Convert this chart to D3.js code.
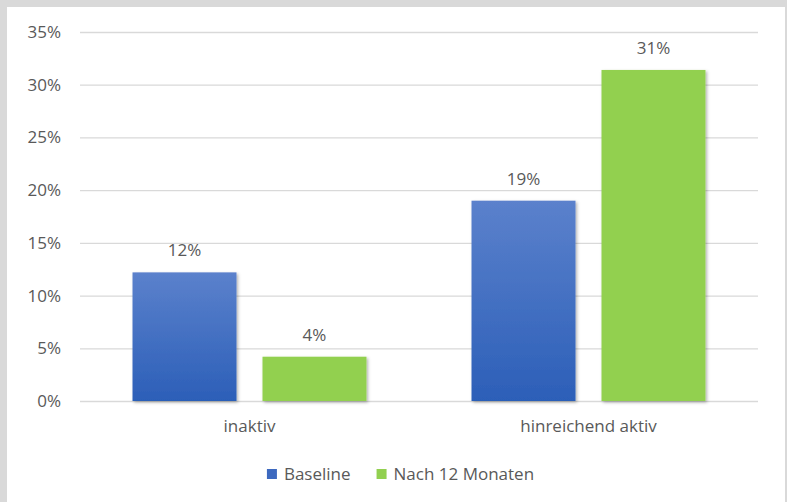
<!DOCTYPE html>
<html>
<head>
<meta charset="utf-8">
<script src="https://cdn.jsdelivr.net/npm/d3@7"></script>
<style>
  html, body { margin: 0; padding: 0; background: #d9d9d9; }
  svg { display: block; }
</style>
</head>
<body>
<svg id="chart" width="787" height="502"></svg>
<script>
// Activity levels at baseline and after 12 months
const categories = ["inaktiv", "hinreichend aktiv"];
const seriesNames = ["Baseline", "Nach 12 Monaten"];
const baseline = [0.122, 0.19];
const nach12 = [0.042, 0.314];
const yTicks = [0, 0.05, 0.10, 0.15, 0.20, 0.25, 0.30, 0.35];

const W = 787, H = 502;
const margin = { left: 80, right: 29, top: 32, bottom: 101 };
const font = "'Open Sans', sans-serif";
const fontSize = "17px";
const textColor = "#595959";

const svg = d3.select("#chart");

// white chart area inside the grey frame
svg.append("rect").attr("x", 7).attr("y", 7).attr("width", 778).attr("height", H - 7).attr("fill", "#ffffff");

const defs = svg.append("defs");
const grad = defs.append("linearGradient").attr("id", "blueGrad")
  .attr("x1", 0).attr("y1", 0).attr("x2", 0).attr("y2", 1);
grad.append("stop").attr("offset", "0%").attr("stop-color", "#5b81cc");
grad.append("stop").attr("offset", "100%").attr("stop-color", "#2c5fb8");

const shadow = defs.append("filter").attr("id", "shadow")
  .attr("x", "-20%").attr("y", "-10%").attr("width", "140%").attr("height", "120%");
shadow.append("feDropShadow").attr("dx", 1.5).attr("dy", 1.5).attr("stdDeviation", 1.6)
  .attr("flood-color", "#000").attr("flood-opacity", 0.3);

const x0 = d3.scaleBand().domain(categories).range([margin.left, W - margin.right]).paddingInner(0).paddingOuter(0);
const x1 = d3.scaleBand().domain(seriesNames).range([0, x0.bandwidth()]).paddingInner(0.2).paddingOuter(0.404);
const y = d3.scaleLinear().domain([0, 0.35]).range([H - margin.bottom, margin.top]);

const pct = d3.format(".0%");

// gridlines and y tick labels
const yAxis = d3.axisLeft(y).tickValues(yTicks).tickFormat(pct)
  .tickSize(-(W - margin.left - margin.right)).tickPadding(19);
const gy = svg.append("g").attr("transform", `translate(${margin.left},0)`).call(yAxis);
gy.select(".domain").remove();
gy.selectAll(".tick line").attr("stroke", "#d9d9d9").attr("stroke-width", 1.3);
gy.selectAll(".tick text").attr("fill", textColor).style("font-family", font).style("font-size", fontSize);

// bars
const colors = { "Baseline": "url(#blueGrad)", "Nach 12 Monaten": "#92d050" };
const legendColors = { "Baseline": "#3d69bf", "Nach 12 Monaten": "#92d050" };
const rows = categories.map((c, i) => ({
  cat: c,
  values: [
    { series: seriesNames[0], value: baseline[i] },
    { series: seriesNames[1], value: nach12[i] }
  ]
}));

const groups = svg.selectAll("g.group").data(rows).enter().append("g")
  .attr("class", "group").attr("transform", d => `translate(${x0(d.cat)},0)`);

groups.selectAll("rect").data(d => d.values).enter().append("rect")
  .attr("x", d => x1(d.series))
  .attr("y", d => y(d.value))
  .attr("width", x1.bandwidth())
  .attr("height", d => y(0) - y(d.value))
  .attr("fill", d => colors[d.series])
  .attr("filter", "url(#shadow)");

groups.selectAll("text.val").data(d => d.values).enter().append("text")
  .attr("class", "val")
  .attr("x", d => x1(d.series) + x1.bandwidth() / 2)
  .attr("y", d => y(d.value) - 16)
  .attr("text-anchor", "middle")
  .attr("fill", textColor)
  .style("font-family", font).style("font-size", fontSize)
  .text(d => pct(d.value));

// category labels
const xAxis = d3.axisBottom(x0).tickSize(0).tickPadding(19);
const gx = svg.append("g").attr("transform", `translate(0,${y(0)})`).call(xAxis);
gx.select(".domain").remove();
gx.selectAll(".tick text").attr("fill", textColor).style("font-family", font).style("font-size", fontSize);

// legend, centred under the plot
const legend = svg.append("g").attr("transform", "translate(0,474)");
const items = seriesNames.map(s => {
  const g = legend.append("g");
  g.append("rect").attr("x", 0).attr("y", -5).attr("width", 10).attr("height", 10).attr("fill", legendColors[s]);
  const t = g.append("text").attr("x", 17).attr("y", 0).attr("dy", "0.35em")
    .attr("fill", textColor).style("font-family", font).style("font-size", fontSize).text(s);
  return { g, w: 17 + t.node().getComputedTextLength() };
});
const itemGap = 26;
const total = d3.sum(items, d => d.w) + itemGap * (items.length - 1);
let cx = 400.5 - total / 2;
items.forEach(it => { it.g.attr("transform", `translate(${cx},0)`); cx += it.w + itemGap; });
</script>
</body>
</html>
